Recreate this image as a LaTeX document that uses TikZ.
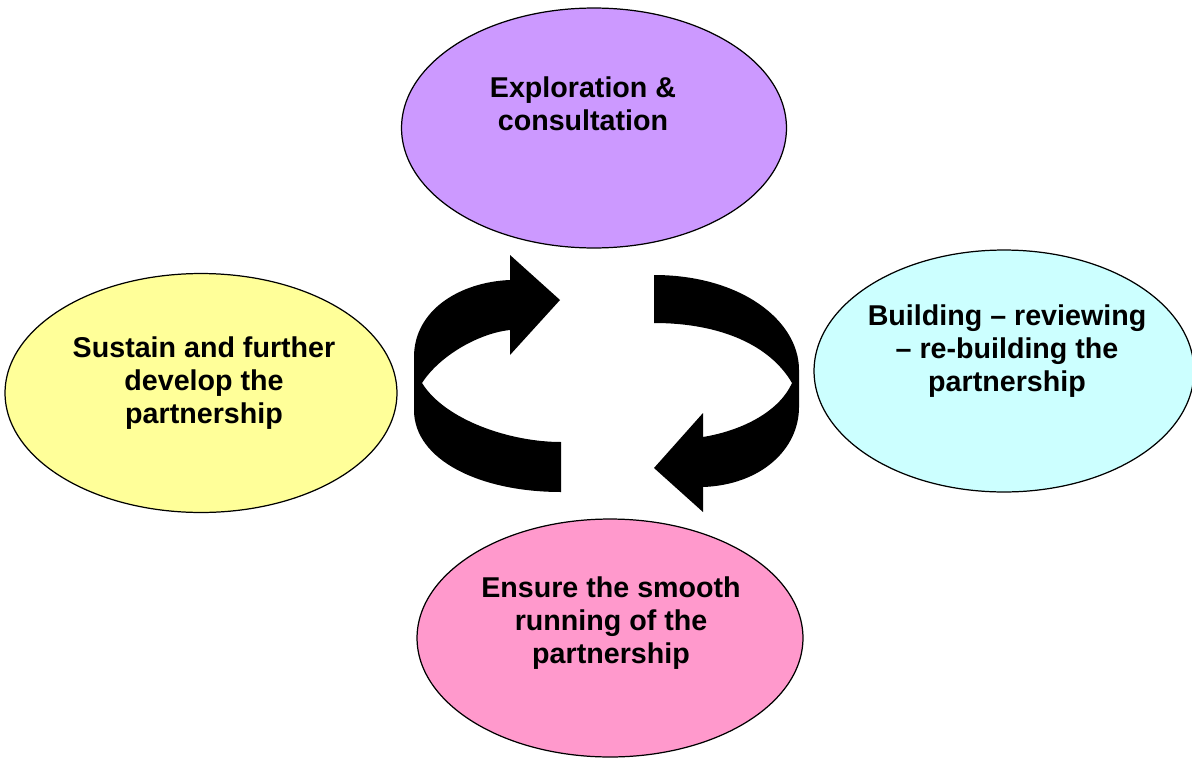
\documentclass[tikz,border=0pt]{standalone}
\usepackage{fontspec}
\setmainfont{Liberation Sans}
\usepackage{xcolor}
\usepackage{tikz}
\definecolor{stagepurple}{HTML}{CC99FF}
\definecolor{stageyellow}{HTML}{FFFF99}
\definecolor{stagecyan}{HTML}{CCFFFF}
\definecolor{stagepink}{HTML}{FF99CC}

\begin{document}
\begin{tikzpicture}[x=0.02cm,y=-0.02cm,
    stage/.style={draw=black,line width=0.7pt},
    stagetext/.style={anchor=north,inner sep=0pt,align=center,font=\fontsize{16.3}{19}\selectfont\bfseries}]
    \useasboundingbox (0,0) rectangle (1192,757);
    % the four stages
    \draw[stage,fill=stagepurple] (594,128) ellipse [x radius=3.85cm, y radius=2.4cm];
    \draw[stage,fill=stageyellow] (201,393) ellipse [x radius=3.92cm, y radius=2.39cm];
    \draw[stage,fill=stagecyan] (1004,371) ellipse [x radius=3.8cm, y radius=2.42cm];
    \draw[stage,fill=stagepink] (610,638) ellipse [x radius=3.86cm, y radius=2.38cm];
    \node[stagetext] (explore) at (583,76) {Exploration \&\\consultation};
    \node[stagetext] (sustain) at (204,336) {Sustain and further\\develop the\\partnership};
    \node[stagetext] (build) at (1007,304) {Building -- reviewing\\-- re-building the\\partnership};
    \node[stagetext] (ensure) at (611,576) {Ensure the smooth\\running of the\\partnership};
    % left turning arrow, tail at the bottom, head pointing right
    \fill[black] (560,300) -- (510,355) -- (510,330)
        .. controls (480,333) and (440,355) .. (422,383)
        .. controls (445,420) and (510,442) .. (561,442) -- (561,492)
        .. controls (480,492) and (414,460) .. (414,410) -- (414,357)
        .. controls (414,310) and (460,282) .. (510,280) -- (510,255) -- cycle;
    % right turning arrow, tail at the top, head pointing left
    \fill[black] (654,275)
        .. controls (740,275) and (799,320) .. (799,370) -- (799,407)
        .. controls (799,450) and (760,485) .. (703,487) -- (703,512) -- (654,468) -- (703,413) -- (703,437)
        .. controls (745,430) and (780,410) .. (792,383)
        .. controls (770,345) and (720,323) .. (654,323) -- cycle;
\end{tikzpicture}
\end{document}
